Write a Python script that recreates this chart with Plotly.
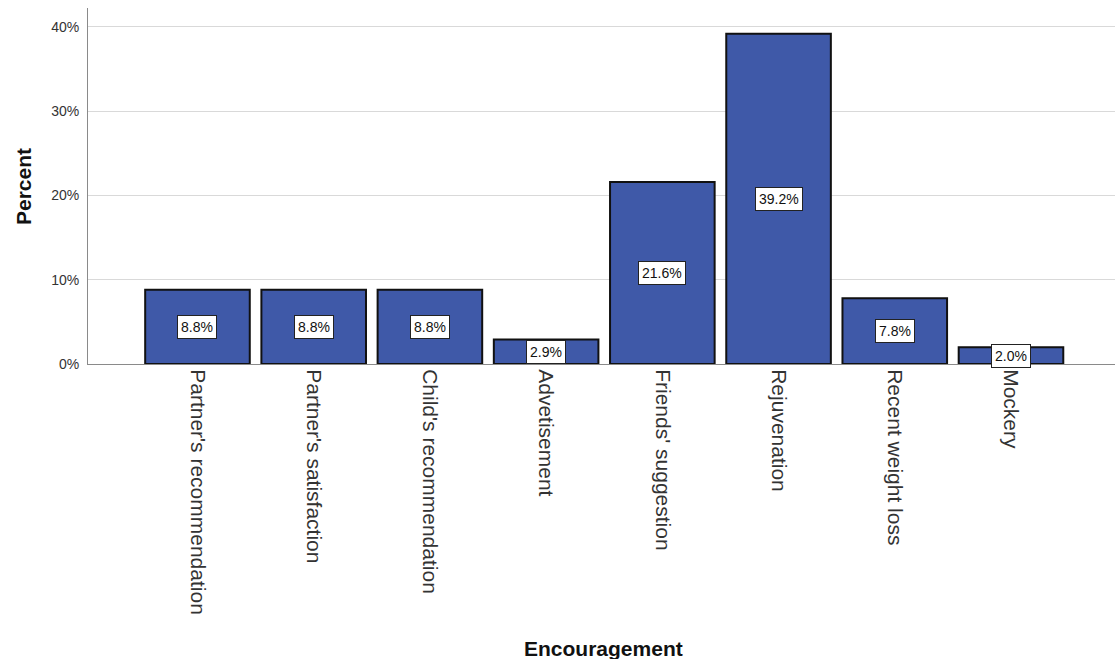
import plotly.graph_objects as go

categories = [
    "Partner's recommendation",
    "Partner's satisfaction",
    "Child's recommendation",
    "Advetisement",
    "Friends' suggestion",
    "Rejuvenation",
    "Recent weight loss",
    "Mockery",
]
percent = [8.8, 8.8, 8.8, 2.9, 21.6, 39.2, 7.8, 2.0]
y_ticks = [0, 10, 20, 30, 40]
y_tick_labels = ["0%", "10%", "20%", "30%", "40%"]

x_idx = list(range(len(categories)))
FONT = "Liberation Sans, Arial"

fig = go.Figure()
fig.add_trace(go.Bar(
    x=x_idx,
    y=percent,
    width=0.9,
    marker=dict(color="#3f59a8", line=dict(color="#111111", width=2)),
    hoverinfo="skip",
))

# value labels in boxes at mid-height of each bar
for i, v in enumerate(percent):
    fig.add_annotation(
        x=i, y=v / 2, xref="x", yref="y",
        text=f"{v:.1f}%", showarrow=False,
        font=dict(family=FONT, size=14, color="#111111"),
        bgcolor="white", bordercolor="#222222", borderwidth=1, borderpad=3,
    )

fig.add_annotation(
    text="<b>Percent</b>", xref="paper", yref="paper",
    x=-0.0633, y=0.5, xanchor="center", yanchor="middle",
    textangle=-90, showarrow=False,
    font=dict(family=FONT, size=21, color="#111111"),
)
fig.add_annotation(
    text="<b>Encouragement</b>", xref="paper", yref="paper",
    x=0.502, y=-0.798, xanchor="center", yanchor="middle", showarrow=False,
    font=dict(family=FONT, size=21, color="#111111"),
)

fig.update_layout(
    width=1115, height=659,
    margin=dict(l=88, r=0, t=8, b=295),
    paper_bgcolor="white", plot_bgcolor="white",
    showlegend=False,
    font=dict(family=FONT, color="#333333"),
)
fig.update_xaxes(
    range=[-0.942, 7.895],
    tickmode="array", tickvals=x_idx, ticktext=categories,
    tickangle=90, tickfont=dict(size=21, color="#333333"),
    showline=True, linecolor="#8a8a8a", linewidth=1,
    ticks="", showgrid=False, zeroline=False,
)
fig.update_yaxes(
    range=[0, 42.25],
    tickmode="array", tickvals=y_ticks, ticktext=y_tick_labels,
    tickfont=dict(size=14, color="#333333"),
    ticklabelstandoff=5,
    showline=True, linecolor="#8a8a8a", linewidth=1,
    showgrid=True, gridcolor="#d9d9d9", gridwidth=1,
    ticks="", zeroline=False,
)

fig.write_html("out.html")
